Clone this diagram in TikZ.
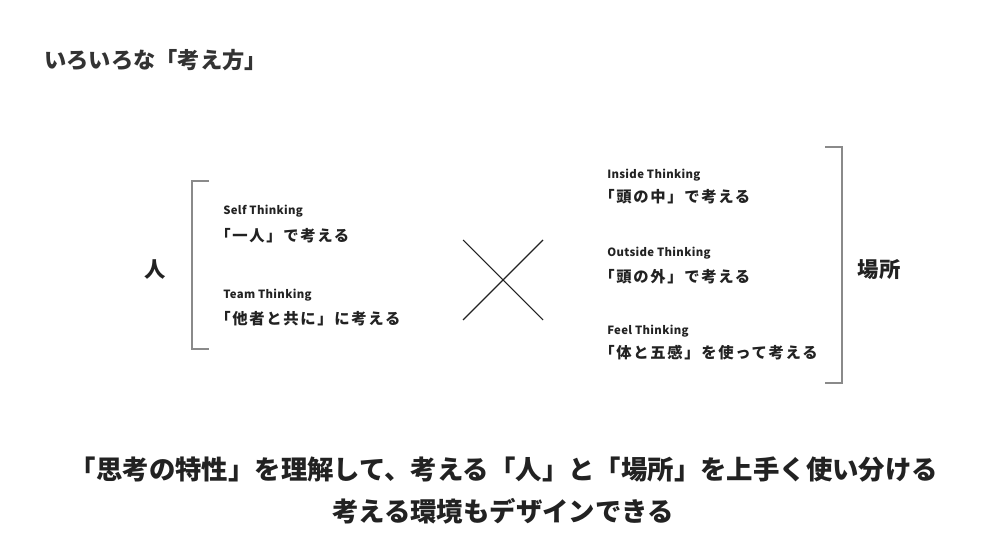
\documentclass[tikz,border=0pt]{standalone}
\usepackage{fontspec}
\setmainfont{Noto Sans CJK JP}
\newfontfamily\jpitem{Noto Sans CJK JP}[LetterSpace=11]
\newfontfamily\jptag{Noto Sans CJK JP}[LetterSpace=3]
\definecolor{inkgray}{HTML}{222222}
\definecolor{bracketgray}{HTML}{8A8A8A}

\begin{document}
\begin{tikzpicture}[x=0.75pt,y=-0.75pt,
        every node/.style={inner sep=0pt, text=inkgray},
        heading/.style={anchor=west, text=black!80, font=\bfseries\fontsize{16.7}{20}\selectfont},
        side/.style={font=\bfseries\fontsize{16}{19}\selectfont},
        tag/.style={anchor=west, font=\jptag\bfseries\fontsize{8.5}{10}\selectfont},
        item/.style={anchor=west, font=\jpitem\bfseries\fontsize{11.5}{13}\selectfont},
        summary/.style={font=\bfseries\fontsize{19.8}{24}\selectfont},
        bracket/.style={draw=bracketgray, line width=0.9pt},
        cross/.style={draw=inkgray, line width=0.8pt}]
        \useasboundingbox (0,0) rectangle (1008,552);

        \node[heading] (title) at (44,60) {いろいろな「考え方」};

        % brackets
        \draw[bracket] (209,181) -- (192,181) -- (192,349) -- (209,349);
        \draw[bracket] (825,147) -- (842,147) -- (842,383) -- (825,383);

        \node[side] (person) at (155,270) {人};
        \node[side] (place) at (879,270) {場所};

        \node[tag] (selftag) at (223,211) {Self Thinking};
        \node[item] (selfitem) at (215,236) {「一人」で考える};
        \node[tag] (teamtag) at (223,295) {Team Thinking};
        \node[item] (teamitem) at (215,319) {「他者と共に」に考える};

        \node[tag] (insidetag) at (607,175) {Inside Thinking};
        \node[item] (insideitem) at (599,197) {「頭の中」で考える};
        \node[tag] (outsidetag) at (607,253) {Outside Thinking};
        \node[item] (outsideitem) at (599,277) {「頭の外」で考える};
        \node[tag] (feeltag) at (607,331) {Feel Thinking};
        \node[item] (feelitem) at (599,353) {「体と五感」を使って考える};

        % cross
        \draw[cross] (463,240) -- (543,320);
        \draw[cross] (463,320) -- (543,240);

        \node[summary] (lineone) at (504,470) {「思考の特性」を理解して、考える「人」と「場所」を上手く使い分ける};
        \node[summary] (linetwo) at (503,511) {考える環境もデザインできる};
\end{tikzpicture}
\end{document}
